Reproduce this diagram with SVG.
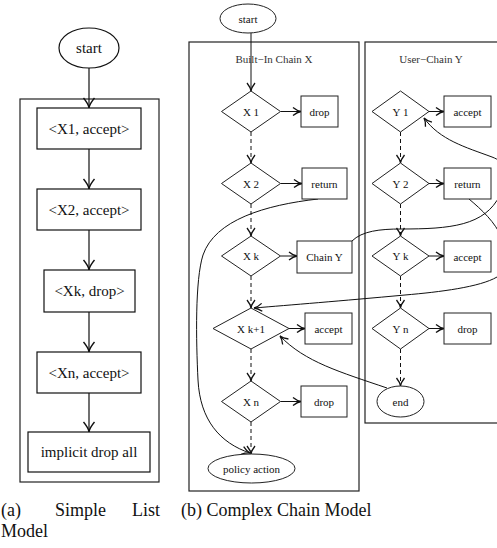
<svg xmlns="http://www.w3.org/2000/svg" width="497" height="548" viewBox="0 0 497 548">
<style>
  text { font-family: "Liberation Serif", "Times New Roman", serif; fill: #111; }
  .big { font-size: 15px; text-anchor: middle; }
  .sm { font-size: 11px; text-anchor: middle; }
  .cap { font-size: 18px; }
  .shape { fill: #fff; stroke: #111; stroke-width: 1.2; }
  .shapeb { fill: #fff; stroke: #222; stroke-width: 1; }
  .frame { fill: none; stroke: #222; stroke-width: 1.2; }
  .arr { fill: none; stroke: #111; stroke-width: 1.2; marker-end: url(#ah); }
  .arrb { fill: none; stroke: #111; stroke-width: 1; marker-end: url(#ahs); }
  .dash { fill: none; stroke: #111; stroke-width: 1; stroke-dasharray: 4 3; marker-end: url(#ahs); }
  .curve { fill: none; stroke: #111; stroke-width: 1; }
</style>
<defs>
  <marker id="ah" markerUnits="userSpaceOnUse" markerWidth="14" markerHeight="14" viewBox="0 0 14 14" refX="12" refY="7" orient="auto">
    <path d="M2,1.5 C5,4 8,6.5 12,7 C8,7.5 5,10 2,12.5" fill="none" stroke="#111" stroke-width="1.4"/>
  </marker>
  <marker id="ahs" markerUnits="userSpaceOnUse" markerWidth="12" markerHeight="12" viewBox="0 0 12 12" refX="10" refY="6" orient="auto">
    <path d="M2,2 C4.5,4 7,5.6 10,6 C7,6.4 4.5,8 2,10" fill="none" stroke="#111" stroke-width="1.3"/>
  </marker>
</defs>

<!-- Panel (a) -->
<rect class="frame" x="20" y="99" width="139" height="383"/>
<g id="a_start"><ellipse class="shape" cx="89" cy="48" rx="30" ry="20"/><text class="big" x="89" y="53">start</text></g>
<g id="a_x1"><rect class="shape" x="37" y="108" width="104" height="41"/><text class="big" x="89" y="133.5">&lt;X1, accept&gt;</text></g>
<g id="a_x2"><rect class="shape" x="37" y="189" width="104" height="41"/><text class="big" x="89" y="214.5">&lt;X2, accept&gt;</text></g>
<g id="a_xk"><rect class="shape" x="44" y="270" width="91" height="42"/><text class="big" x="89.5" y="296">&lt;Xk, drop&gt;</text></g>
<g id="a_xn"><rect class="shape" x="37" y="352" width="104" height="41"/><text class="big" x="89" y="377.5">&lt;Xn, accept&gt;</text></g>
<g id="a_impl"><rect class="shape" x="28" y="432" width="122" height="40"/><text class="big" x="89" y="457">implicit drop all</text></g>

<!-- Panel (b) frames -->
<rect class="frame" x="189" y="42" width="170" height="449"/>
<text class="sm" x="274" y="63" style="fill:#333">Built−In Chain X</text>
<rect class="frame" x="365" y="42" width="150" height="381"/>
<text class="sm" x="431" y="63" style="fill:#333">User−Chain Y</text>

<g id="connectors">
  <!-- panel a -->
  <line class="arr" x1="89" y1="68" x2="89" y2="108"/>
  <line class="arr" x1="89" y1="149" x2="89" y2="189"/>
  <line class="arr" x1="89" y1="230" x2="89" y2="270"/>
  <line class="arr" x1="89" y1="312" x2="89" y2="352"/>
  <line class="arr" x1="89" y1="393" x2="89" y2="432"/>
  <!-- chain X -->
  <line class="arrb" x1="251" y1="33" x2="251" y2="91"/>
  <line class="dash" x1="251" y1="132" x2="251" y2="163"/>
  <line class="dash" x1="251" y1="204" x2="251" y2="236"/>
  <line class="dash" x1="251" y1="276" x2="251" y2="308"/>
  <line class="dash" x1="251" y1="349" x2="251" y2="381"/>
  <line class="dash" x1="251" y1="422" x2="251" y2="454"/>
  <line class="arrb" x1="280.5" y1="111.5" x2="301" y2="111.5"/>
  <line class="arrb" x1="280.5" y1="183.5" x2="302" y2="183.5"/>
  <line class="arrb" x1="280.5" y1="256" x2="297" y2="256"/>
  <line class="arrb" x1="289" y1="328.5" x2="305" y2="328.5"/>
  <line class="arrb" x1="280.5" y1="401.5" x2="301" y2="401.5"/>
  <!-- chain Y -->
  <line class="dash" x1="400.5" y1="132" x2="400.5" y2="163"/>
  <line class="dash" x1="400.5" y1="204" x2="400.5" y2="236"/>
  <line class="dash" x1="400.5" y1="276" x2="400.5" y2="308"/>
  <line class="dash" x1="400.5" y1="349" x2="400.5" y2="386"/>
  <line class="arrb" x1="429" y1="111.5" x2="444" y2="111.5"/>
  <line class="arrb" x1="429" y1="183.5" x2="444" y2="183.5"/>
  <line class="arrb" x1="429" y1="256" x2="444" y2="256"/>
  <line class="arrb" x1="429" y1="328.5" x2="444" y2="328.5"/>
  <!-- curves -->
  <path class="curve" style="marker-end:url(#ahs)" d="M318,199 C265,205 215,220 203,255 C195,280 196,340 198,380 C200,420 220,443 250,453"/>
  <path class="curve" style="marker-end:url(#ahs)" d="M352,241 C362,231 380,229 401,229 C450,229 485,226 500,195 C512,170 505,162 492,157 C465,147 440,140 424,118"/>
  <path class="curve" style="marker-end:url(#ahs)" d="M469,199 C482,210 495,222 502,238 C510,258 505,272 497,277 C480,287 440,292 405,295 C340,301 290,305 254,308"/>
  <path class="curve" style="marker-end:url(#ahs)" d="M387,388 C340,372 305,362 280,336"/>
</g>

<!-- chain X nodes -->
<g id="b_start"><ellipse class="shapeb" cx="248" cy="18.5" rx="28" ry="14.5"/><text class="sm" x="248" y="22.5">start</text></g>
<g id="x1"><polygon class="shapeb" points="251,91 280.5,111.5 251,132 221.5,111.5"/><text class="sm" x="251" y="115.5">X 1</text></g>
<g id="x1_drop"><rect class="shapeb" x="301" y="96" width="37" height="31"/><text class="sm" x="319.5" y="115.5">drop</text></g>
<g id="x2"><polygon class="shapeb" points="251,163 280.5,183.5 251,204 221.5,183.5"/><text class="sm" x="251" y="187.5">X 2</text></g>
<g id="x2_return"><rect class="shapeb" x="302" y="168" width="45" height="31"/><text class="sm" x="324.5" y="187.5">return</text></g>
<g id="xk"><polygon class="shapeb" points="251,236 280.5,256 251,276 221.5,256"/><text class="sm" x="251" y="260">X k</text></g>
<g id="xk_chainy"><rect class="shapeb" x="297" y="241" width="55" height="32"/><text class="sm" x="324.5" y="261">Chain Y</text></g>
<g id="xk1"><polygon class="shapeb" points="251,308 289,328.5 251,349 213,328.5"/><text class="sm" x="251" y="332.5">X k+1</text></g>
<g id="xk1_accept"><rect class="shapeb" x="305" y="313" width="47" height="31"/><text class="sm" x="328.5" y="332.5">accept</text></g>
<g id="xn"><polygon class="shapeb" points="251,381 280.5,401.5 251,422 221.5,401.5"/><text class="sm" x="251" y="405.5">X n</text></g>
<g id="xn_drop"><rect class="shapeb" x="301" y="386" width="46" height="31"/><text class="sm" x="324" y="405.5">drop</text></g>
<g id="policy"><ellipse class="shapeb" cx="251.5" cy="468.5" rx="43.5" ry="14.5"/><text class="sm" x="251.5" y="472.5">policy action</text></g>

<!-- chain Y nodes -->
<g id="y1"><polygon class="shapeb" points="400.5,91 429,111.5 400.5,132 372,111.5"/><text class="sm" x="400.5" y="115.5">Y 1</text></g>
<g id="y1_accept"><rect class="shapeb" x="444" y="96" width="47" height="31"/><text class="sm" x="467.5" y="115.5">accept</text></g>
<g id="y2"><polygon class="shapeb" points="400.5,163 429,183.5 400.5,204 372,183.5"/><text class="sm" x="400.5" y="187.5">Y 2</text></g>
<g id="y2_return"><rect class="shapeb" x="444" y="168" width="47" height="31"/><text class="sm" x="467.5" y="187.5">return</text></g>
<g id="yk"><polygon class="shapeb" points="400.5,236 429,256 400.5,276 372,256"/><text class="sm" x="400.5" y="260">Y k</text></g>
<g id="yk_accept"><rect class="shapeb" x="444" y="241" width="47" height="31"/><text class="sm" x="467.5" y="260.5">accept</text></g>
<g id="yn"><polygon class="shapeb" points="400.5,308 429,328.5 400.5,349 372,328.5"/><text class="sm" x="400.5" y="332.5">Y n</text></g>
<g id="yn_drop"><rect class="shapeb" x="444" y="313" width="47" height="31"/><text class="sm" x="467.5" y="332.5">drop</text></g>
<g id="end"><ellipse class="shapeb" cx="400.5" cy="401.5" rx="23.5" ry="15.5"/><text class="sm" x="400.5" y="405.5">end</text></g>

<!-- captions -->
<text class="cap" x="1" y="516">(a)</text>
<text class="cap" x="55" y="516">Simple</text>
<text class="cap" x="160" y="516" text-anchor="end">List</text>
<text class="cap" x="1" y="537">Model</text>
<text class="cap" x="181" y="516">(b) Complex Chain Model</text>
</svg>
